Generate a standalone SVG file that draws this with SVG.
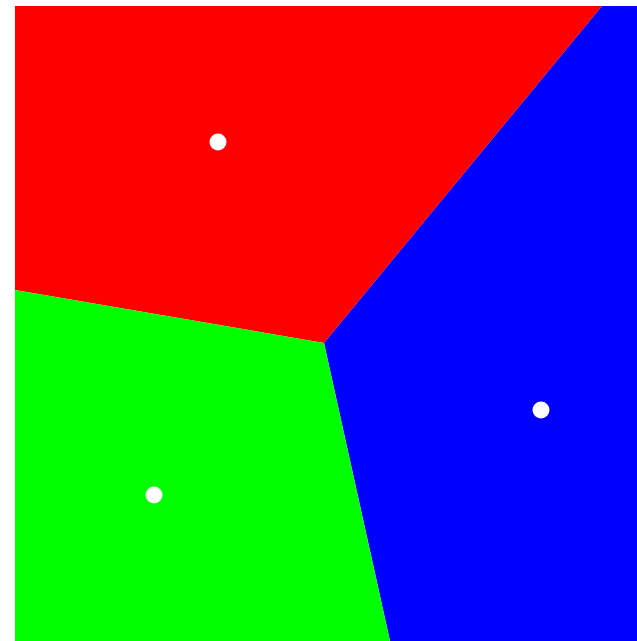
<svg xmlns="http://www.w3.org/2000/svg" width="637" height="641" viewBox="0 0 637 641">
<style>.site{fill:#fff}</style>
<rect width="637" height="641" fill="#fff"/>
<g id="cells">
<polygon id="red" points="15,6 602,6 324,343 15,290" fill="#f00"/>
<polygon id="blue" points="602,6 637,6 637,641 390,641 324,343" fill="#00f"/>
<polygon id="green" points="15,290 324,343 390,641 15,641" fill="#0f0"/>
</g>
<g id="sites">
<circle class="site" cx="218" cy="142" r="8.5"/>
<circle class="site" cx="541" cy="410" r="8.5"/>
<circle class="site" cx="154" cy="495" r="8.5"/>
</g>
</svg>
